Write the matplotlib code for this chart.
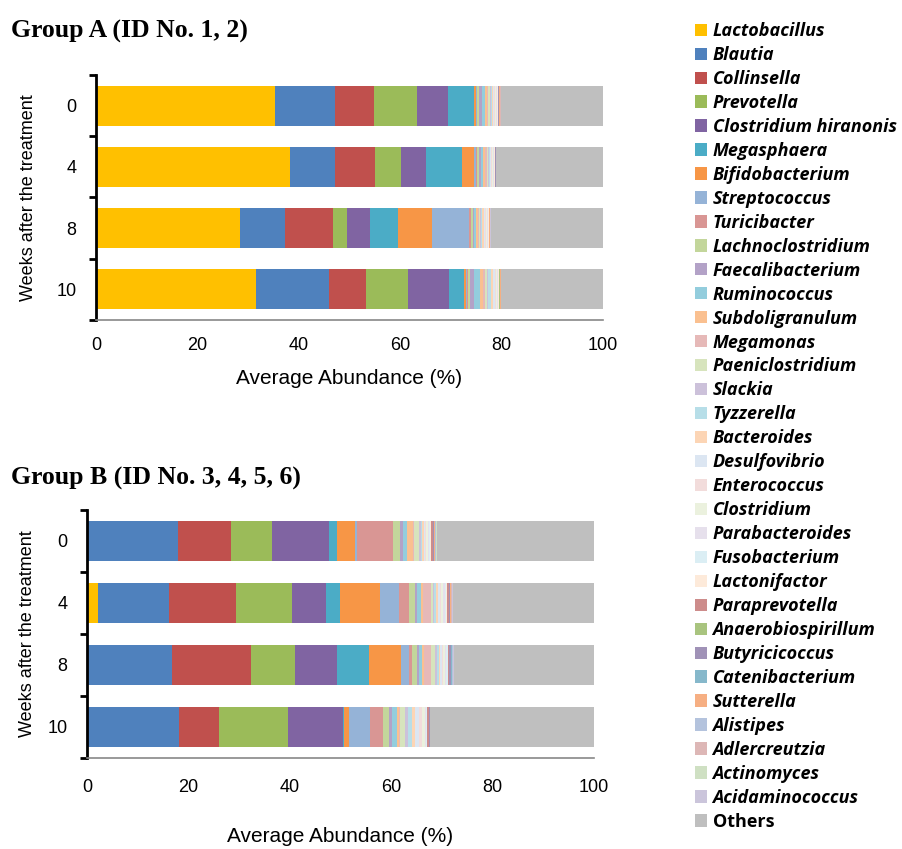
import matplotlib
matplotlib.use('Agg')
import matplotlib.pyplot as plt
import numpy as np

plt.rcParams['font.family'] = ['Liberation Sans', 'DejaVu Sans']

TAXA = ['Lactobacillus', 'Blautia', 'Collinsella', 'Prevotella', 'Clostridium hiranonis',
        'Megasphaera', 'Bifidobacterium', 'Streptococcus', 'Turicibacter', 'Lachnoclostridium',
        'Faecalibacterium', 'Ruminococcus', 'Subdoligranulum', 'Megamonas', 'Paeniclostridium',
        'Slackia', 'Tyzzerella', 'Bacteroides', 'Desulfovibrio', 'Enterococcus', 'Clostridium',
        'Parabacteroides', 'Fusobacterium', 'Lactonifactor', 'Paraprevotella', 'Anaerobiospirillum',
        'Butyricicoccus', 'Catenibacterium', 'Sutterella', 'Alistipes', 'Adlercreutzia',
        'Actinomyces', 'Acidaminococcus', 'Others']

COLORS = ['#FFC000', '#4F81BD', '#C0504D', '#9BBB59', '#8064A2', '#4BACC6', '#F79646',
          '#95B3D7', '#D99694', '#C3D69B', '#B3A2C7', '#93CDDD', '#FAC090', '#E6B9B8',
          '#D7E4BD', '#CCC1DA', '#B7DEE8', '#FCD5B5', '#DCE6F2', '#F2DCDB', '#EBF1DE',
          '#E6E0EC', '#DBEEF4', '#FDEADA', '#CD8C8B', '#A9C47F', '#A092B7', '#86B8CB',
          '#F6AF83', '#B4C3DD', '#DDB7B6', '#CFE0C3', '#CBC5DB', '#BFBFBF']

WEEKS = ['0', '4', '8', '10']

# Group A (ID No. 1, 2), values in % in TAXA order
A_W0 = [35.4, 11.8, 7.6, 8.6, 6.0, 5.2, 0.3, 0.2, 0.1, 0.4, 0.6, 0.5, 0.5, 0.2, 0.3, 0.2, 0.2,
        0.2, 0.2, 0.2, 0.2, 0.1, 0.1, 0.1, 0.1, 0.0, 0.1, 0.1, 0.1, 0.1, 0.1, 0.0, 0.0, 20.2]
A_W4 = [38.3, 8.8, 7.9, 5.1, 5.0, 7.1, 2.4, 0.4, 0.2, 0.3, 0.5, 0.4, 0.4, 0.3, 0.2, 0.2, 0.2,
        0.1, 0.2, 0.1, 0.2, 0.1, 0.1, 0.1, 0.1, 0.0, 0.1, 0.0, 0.0, 0.0, 0.1, 0.0, 0.0, 21.1]
A_W8 = [28.5, 8.7, 9.6, 2.7, 4.5, 5.5, 6.8, 7.3, 0.3, 0.4, 0.2, 0.4, 0.5, 0.2, 0.2, 0.1, 0.3,
        0.3, 0.2, 0.2, 0.2, 0.2, 0.1, 0.1, 0.0, 0.0, 0.1, 0.0, 0.1, 0.1, 0.0, 0.0, 0.1, 22.1]
A_W10 = [31.6, 14.3, 7.3, 8.3, 8.1, 3.0, 0.4, 0.2, 0.1, 0.4, 0.9, 1.1, 0.6, 0.4, 0.4, 0.3, 0.5,
         0.4, 0.3, 0.2, 0.3, 0.1, 0.1, 0.1, 0.1, 0.2, 0.0, 0.0, 0.1, 0.0, 0.0, 0.0, 0.0, 20.2]

# Group B (ID No. 3, 4, 5, 6)
B_W0 = [0.0, 17.9, 10.5, 8.1, 11.2, 1.7, 3.5, 0.3, 7.2, 1.4, 0.5, 0.9, 1.2, 0.1, 1.0, 0.3, 0.3,
        0.3, 0.3, 0.2, 0.3, 0.2, 0.2, 0.2, 0.4, 0.1, 0.1, 0.1, 0.2, 0.1, 0.1, 0.1, 0.0, 31.0]
B_W4 = [2.2, 14.0, 13.1, 11.1, 6.7, 2.9, 7.7, 3.9, 2.0, 1.1, 0.4, 0.7, 0.5, 1.6, 0.3, 0.3, 0.4,
        0.3, 0.4, 0.3, 0.4, 0.3, 0.3, 0.2, 0.3, 0.1, 0.1, 0.0, 0.1, 0.1, 0.1, 0.0, 0.2, 27.9]
B_W8 = [0.3, 16.5, 15.6, 8.6, 8.4, 6.3, 6.3, 1.6, 0.5, 0.9, 0.5, 0.6, 0.3, 1.4, 0.9, 0.3, 0.4,
        0.2, 0.4, 0.3, 0.3, 0.3, 0.3, 0.1, 0.2, 0.0, 0.3, 0.1, 0.1, 0.2, 0.0, 0.0, 0.1, 27.7]
B_W10 = [0.0, 18.1, 7.9, 13.7, 10.7, 0.2, 1.0, 4.2, 2.6, 1.1, 0.7, 0.9, 0.4, 0.3, 0.9, 0.6, 0.8,
         0.5, 0.9, 0.5, 0.6, 0.2, 0.2, 0.1, 0.3, 0.1, 0.1, 0.0, 0.0, 0.1, 0.0, 0.0, 0.0, 32.3]


def stacked(ax, rows, xpad, xlab_y):
    data = np.array(rows)
    y = np.arange(len(rows))
    left = np.zeros(len(rows))
    handles = []
    for j, (name, col) in enumerate(zip(TAXA, COLORS)):
        h = ax.barh(y, data[:, j], left=left, height=0.65, color=col, edgecolor='none', label=name)
        handles.append(h)
        left += data[:, j]
    ax.set_xlim(0, 100)
    ax.set_ylim(len(rows) - 0.5, -0.5)
    ax.set_xticks(np.arange(0, 101, 20))
    ax.tick_params(axis='x', length=0, labelsize=13, pad=xpad)
    ax.set_yticks(np.arange(-0.5, len(rows)), labels=[])
    ax.set_yticks(y, labels=WEEKS, minor=True)
    ax.tick_params(axis='y', which='major', length=5, width=2, direction='out')
    ax.tick_params(axis='y', which='minor', length=0, labelsize=13, pad=14)
    ax.spines['top'].set_visible(False)
    ax.spines['right'].set_visible(False)
    ax.spines['left'].set_linewidth(2)
    ax.spines['bottom'].set_color('#888888')
    ax.spines['bottom'].set_linewidth(1.2)
    ax.set_xlabel('Average Abundance (%)', fontsize=15, va='center')
    ax.xaxis.set_label_coords(0.5, xlab_y)
    ax.set_ylabel('Weeks after the treatment', fontsize=13)
    return handles


fig = plt.figure(figsize=(9.03, 8.49), dpi=100)
ax_a = fig.add_axes([0.1063, 0.6231, 0.5615, 0.2886])
ax_b = fig.add_axes([0.0963, 0.1072, 0.5615, 0.2921])

handles = stacked(ax_a, [A_W0, A_W4, A_W8, A_W10], 12, -0.237)
stacked(ax_b, [B_W0, B_W4, B_W8, B_W10], 15, -0.315)
ax_a.yaxis.set_label_coords(-0.117, 0.5)
ax_b.yaxis.set_label_coords(-0.1, 0.5)

fig.text(0.012, 0.963, 'Group A (ID No. 1, 2)', family='Liberation Serif', fontweight='bold',
         fontsize=18.5, va='center')
fig.text(0.012, 0.436, 'Group B (ID No. 3, 4, 5, 6)', family='Liberation Serif', fontweight='bold',
         fontsize=18.5, va='center')

leg = fig.legend(handles, TAXA, loc='upper left', bbox_to_anchor=(0.7697, 0.974), frameon=False,
                 prop={'family': 'Open Sans', 'weight': 'bold', 'style': 'italic', 'size': 13},
                 handlelength=0.67, handleheight=0.67, handletextpad=0.3, labelspacing=0.33,
                 borderaxespad=0, borderpad=0)
leg.get_texts()[-1].set_fontstyle('normal')

fig.savefig('out.png', dpi=100)
